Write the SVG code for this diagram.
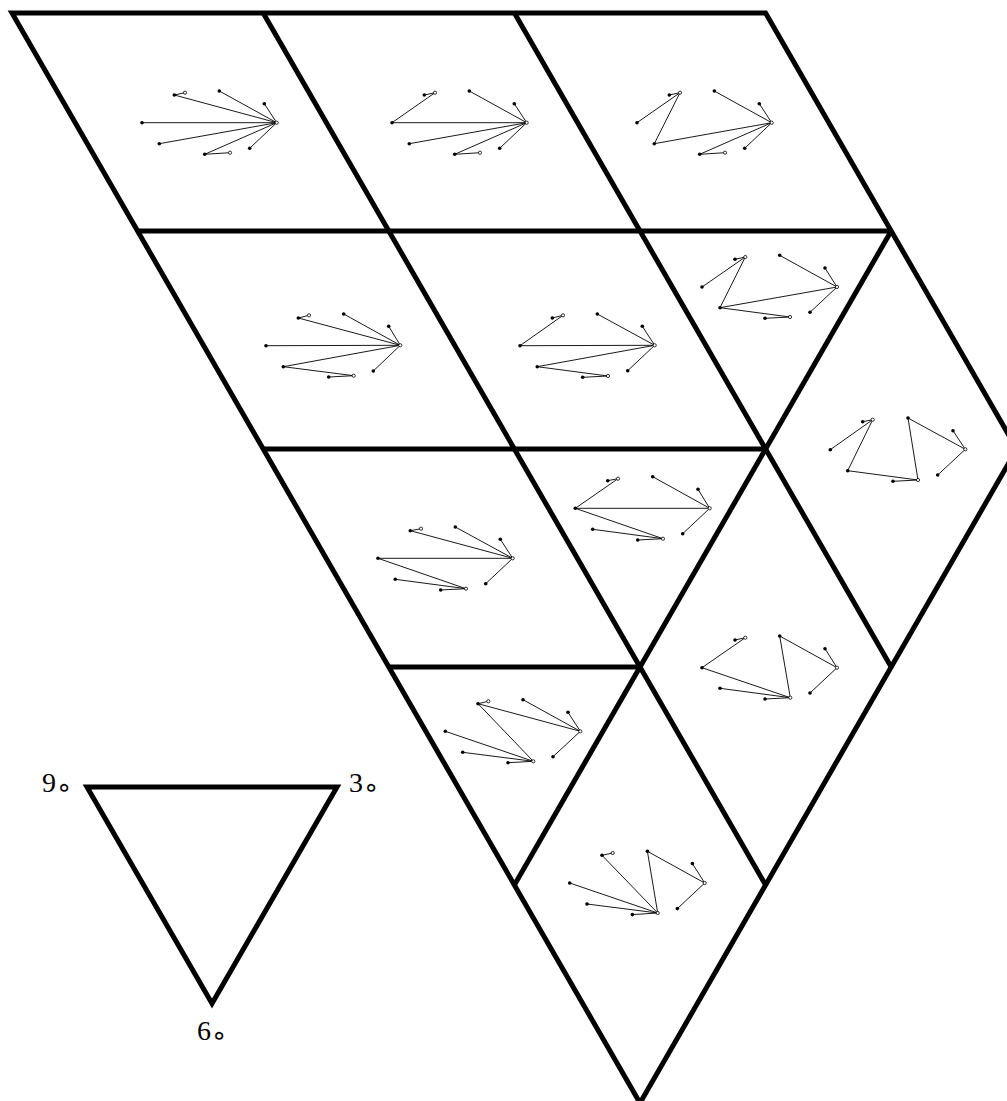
<svg xmlns="http://www.w3.org/2000/svg" width="1007" height="1101" viewBox="0 0 1007 1101">
<style>
.fr{fill:none;stroke:#000;stroke-width:5;stroke-linejoin:miter;stroke-linecap:butt}
.e line{stroke:#000;stroke-width:0.9}
.f{fill:#000}
.o{fill:#fff;stroke:#000;stroke-width:0.8}
.lb{font-family:"Liberation Serif","DejaVu Serif",serif;font-size:28px;fill:#000}
.sb{font-family:"DejaVu Sans","Liberation Sans",sans-serif;font-size:26px}
</style>
<rect width="1007" height="1101" fill="#fff"/>
<g id="frame">
<path class="fr" d="M12,13 L765.6,13 L1016.8,449 L640,1103 Z"/>
<path class="fr" d="M137.6,231 L891.2,231 M263.2,449 L765.6,449 M388.8,667 L640,667"/>
<path class="fr" d="M263.2,13 L765.6,885 M514.4,13 L891.2,667"/>
<path class="fr" d="M891.2,231 L514.4,885"/>
</g>
<g id="cell1">
<g class="e">
<line x1="276.7" y1="122.7" x2="142" y2="122.7"/><line x1="276.7" y1="122.7" x2="174.3" y2="95"/><line x1="276.7" y1="122.7" x2="219.3" y2="91"/><line x1="276.7" y1="122.7" x2="264.3" y2="103.7"/><line x1="276.7" y1="122.7" x2="159.3" y2="143.7"/><line x1="276.7" y1="122.7" x2="204.7" y2="154.3"/><line x1="276.7" y1="122.7" x2="249.7" y2="148.3"/><line x1="174.3" y1="95" x2="185" y2="92.7"/><line x1="204.7" y1="154.3" x2="230" y2="152.7"/>
</g>
<circle class="f" cx="142" cy="122.7" r="1.8"/><circle class="f" cx="174.3" cy="95" r="1.8"/><circle class="f" cx="219.3" cy="91" r="1.8"/><circle class="f" cx="264.3" cy="103.7" r="1.8"/><circle class="f" cx="159.3" cy="143.7" r="1.8"/><circle class="f" cx="204.7" cy="154.3" r="1.8"/><circle class="f" cx="249.7" cy="148.3" r="1.8"/>
<circle class="o" cx="185" cy="92.7" r="1.6"/><circle class="o" cx="276.7" cy="122.7" r="1.6"/><circle class="o" cx="230" cy="152.7" r="1.6"/>
</g>
<g id="cell2">
<g class="e">
<line x1="392" y1="122.7" x2="435" y2="92.7"/><line x1="424.3" y1="95" x2="435" y2="92.7"/><line x1="526.7" y1="122.7" x2="469.3" y2="91"/><line x1="526.7" y1="122.7" x2="514.3" y2="103.7"/><line x1="526.7" y1="122.7" x2="392" y2="122.7"/><line x1="526.7" y1="122.7" x2="409.3" y2="143.7"/><line x1="526.7" y1="122.7" x2="454.7" y2="154.3"/><line x1="454.7" y1="154.3" x2="480" y2="152.7"/><line x1="526.7" y1="122.7" x2="499.7" y2="148.3"/>
</g>
<circle class="f" cx="392" cy="122.7" r="1.8"/><circle class="f" cx="424.3" cy="95" r="1.8"/><circle class="f" cx="469.3" cy="91" r="1.8"/><circle class="f" cx="514.3" cy="103.7" r="1.8"/><circle class="f" cx="409.3" cy="143.7" r="1.8"/><circle class="f" cx="454.7" cy="154.3" r="1.8"/><circle class="f" cx="499.7" cy="148.3" r="1.8"/>
<circle class="o" cx="435" cy="92.7" r="1.6"/><circle class="o" cx="526.7" cy="122.7" r="1.6"/><circle class="o" cx="480" cy="152.7" r="1.6"/>
</g>
<g id="cell3">
<g class="e">
<line x1="637" y1="122.7" x2="680" y2="92.7"/><line x1="669.3" y1="95" x2="680" y2="92.7"/><line x1="680" y1="92.7" x2="654.3" y2="143.7"/><line x1="654.3" y1="143.7" x2="771.7" y2="122.7"/><line x1="771.7" y1="122.7" x2="714.3" y2="91"/><line x1="771.7" y1="122.7" x2="759.3" y2="103.7"/><line x1="771.7" y1="122.7" x2="699.7" y2="154.3"/><line x1="699.7" y1="154.3" x2="725" y2="152.7"/><line x1="771.7" y1="122.7" x2="744.7" y2="148.3"/>
</g>
<circle class="f" cx="637" cy="122.7" r="1.8"/><circle class="f" cx="669.3" cy="95" r="1.8"/><circle class="f" cx="714.3" cy="91" r="1.8"/><circle class="f" cx="759.3" cy="103.7" r="1.8"/><circle class="f" cx="654.3" cy="143.7" r="1.8"/><circle class="f" cx="699.7" cy="154.3" r="1.8"/><circle class="f" cx="744.7" cy="148.3" r="1.8"/>
<circle class="o" cx="680" cy="92.7" r="1.6"/><circle class="o" cx="771.7" cy="122.7" r="1.6"/><circle class="o" cx="725" cy="152.7" r="1.6"/>
</g>
<g id="cell4">
<g class="e">
<line x1="298.3" y1="318" x2="309" y2="315.3"/><line x1="298.3" y1="318" x2="400.3" y2="345.3"/><line x1="343.7" y1="314" x2="400.3" y2="345.3"/><line x1="388.7" y1="326.3" x2="400.3" y2="345.3"/><line x1="266" y1="345.7" x2="400.3" y2="345.3"/><line x1="283.3" y1="366.7" x2="400.3" y2="345.3"/><line x1="283.3" y1="366.7" x2="353.7" y2="375.7"/><line x1="328.7" y1="377" x2="353.7" y2="375.7"/><line x1="373.3" y1="371" x2="400.3" y2="345.3"/>
</g>
<circle class="f" cx="266" cy="345.7" r="1.8"/><circle class="f" cx="298.3" cy="318" r="1.8"/><circle class="f" cx="343.7" cy="314" r="1.8"/><circle class="f" cx="388.7" cy="326.3" r="1.8"/><circle class="f" cx="283.3" cy="366.7" r="1.8"/><circle class="f" cx="328.7" cy="377" r="1.8"/><circle class="f" cx="373.3" cy="371" r="1.8"/>
<circle class="o" cx="309" cy="315.3" r="1.6"/><circle class="o" cx="400.3" cy="345.3" r="1.6"/><circle class="o" cx="353.7" cy="375.7" r="1.6"/>
</g>
<g id="cell5">
<g class="e">
<line x1="520" y1="345.7" x2="563" y2="315.3"/><line x1="552.3" y1="318" x2="563" y2="315.3"/><line x1="520" y1="345.7" x2="654.7" y2="345.3"/><line x1="597.3" y1="314" x2="654.7" y2="345.3"/><line x1="642.3" y1="326.3" x2="654.7" y2="345.3"/><line x1="537.3" y1="366.7" x2="654.7" y2="345.3"/><line x1="537.3" y1="366.7" x2="608" y2="376"/><line x1="582.7" y1="377.3" x2="608" y2="376"/><line x1="627.7" y1="370.7" x2="654.7" y2="345.3"/>
</g>
<circle class="f" cx="520" cy="345.7" r="1.8"/><circle class="f" cx="552.3" cy="318" r="1.8"/><circle class="f" cx="597.3" cy="314" r="1.8"/><circle class="f" cx="642.3" cy="326.3" r="1.8"/><circle class="f" cx="537.3" cy="366.7" r="1.8"/><circle class="f" cx="582.7" cy="377.3" r="1.8"/><circle class="f" cx="627.7" cy="370.7" r="1.8"/>
<circle class="o" cx="563" cy="315.3" r="1.6"/><circle class="o" cx="654.7" cy="345.3" r="1.6"/><circle class="o" cx="608" cy="376" r="1.6"/>
</g>
<g id="cell6">
<g class="e">
<line x1="702" y1="287" x2="745.3" y2="257"/><line x1="735" y1="259.3" x2="745.3" y2="257"/><line x1="745.3" y1="257" x2="720" y2="307.7"/><line x1="720" y1="307.7" x2="837" y2="287"/><line x1="779.7" y1="255.3" x2="837" y2="287"/><line x1="825" y1="268" x2="837" y2="287"/><line x1="720" y1="307.7" x2="790" y2="317"/><line x1="765" y1="318.3" x2="790" y2="317"/><line x1="810" y1="312.3" x2="837" y2="287"/>
</g>
<circle class="f" cx="702" cy="287" r="1.8"/><circle class="f" cx="735" cy="259.3" r="1.8"/><circle class="f" cx="779.7" cy="255.3" r="1.8"/><circle class="f" cx="825" cy="268" r="1.8"/><circle class="f" cx="720" cy="307.7" r="1.8"/><circle class="f" cx="765" cy="318.3" r="1.8"/><circle class="f" cx="810" cy="312.3" r="1.8"/>
<circle class="o" cx="745.3" cy="257" r="1.6"/><circle class="o" cx="837" cy="287" r="1.6"/><circle class="o" cx="790" cy="317" r="1.6"/>
</g>
<g id="cell7">
<g class="e">
<line x1="830.3" y1="449.7" x2="872.7" y2="419.7"/><line x1="862.7" y1="421.7" x2="872.7" y2="419.7"/><line x1="872.7" y1="419.7" x2="847.7" y2="470.7"/><line x1="847.7" y1="470.7" x2="918" y2="480"/><line x1="893" y1="481.3" x2="918" y2="480"/><line x1="918" y1="480" x2="908" y2="418"/><line x1="908" y1="418" x2="965.3" y2="449.3"/><line x1="953" y1="430.7" x2="965.3" y2="449.3"/><line x1="937.7" y1="475" x2="965.3" y2="449.3"/>
</g>
<circle class="f" cx="830.3" cy="449.7" r="1.8"/><circle class="f" cx="862.7" cy="421.7" r="1.8"/><circle class="f" cx="908" cy="418" r="1.8"/><circle class="f" cx="953" cy="430.7" r="1.8"/><circle class="f" cx="847.7" cy="470.7" r="1.8"/><circle class="f" cx="893" cy="481.3" r="1.8"/><circle class="f" cx="937.7" cy="475" r="1.8"/>
<circle class="o" cx="872.7" cy="419.7" r="1.6"/><circle class="o" cx="965.3" cy="449.3" r="1.6"/><circle class="o" cx="918" cy="480" r="1.6"/>
</g>
<g id="cell8">
<g class="e">
<line x1="575.3" y1="508.3" x2="618" y2="478.7"/><line x1="607.7" y1="480.7" x2="618" y2="478.7"/><line x1="575.3" y1="508.3" x2="709.7" y2="508.3"/><line x1="575.3" y1="508.3" x2="663" y2="538.7"/><line x1="592.7" y1="529.3" x2="663" y2="538.7"/><line x1="637.7" y1="540" x2="663" y2="538.7"/><line x1="652.7" y1="476.7" x2="709.7" y2="508.3"/><line x1="698" y1="489.3" x2="709.7" y2="508.3"/><line x1="682.7" y1="533.7" x2="709.7" y2="508.3"/>
</g>
<circle class="f" cx="575.3" cy="508.3" r="1.8"/><circle class="f" cx="607.7" cy="480.7" r="1.8"/><circle class="f" cx="652.7" cy="476.7" r="1.8"/><circle class="f" cx="698" cy="489.3" r="1.8"/><circle class="f" cx="592.7" cy="529.3" r="1.8"/><circle class="f" cx="637.7" cy="540" r="1.8"/><circle class="f" cx="682.7" cy="533.7" r="1.8"/>
<circle class="o" cx="618" cy="478.7" r="1.6"/><circle class="o" cx="709.7" cy="508.3" r="1.6"/><circle class="o" cx="663" cy="538.7" r="1.6"/>
</g>
<g id="cell9">
<g class="e">
<line x1="410.3" y1="530.7" x2="421" y2="528.7"/><line x1="410.3" y1="530.7" x2="512.7" y2="558.3"/><line x1="455.3" y1="527" x2="512.7" y2="558.3"/><line x1="500.3" y1="539.3" x2="512.7" y2="558.3"/><line x1="378" y1="558.3" x2="512.7" y2="558.3"/><line x1="378" y1="558.3" x2="466" y2="588.7"/><line x1="395.3" y1="579.3" x2="466" y2="588.7"/><line x1="440.7" y1="590" x2="466" y2="588.7"/><line x1="485.7" y1="583.7" x2="512.7" y2="558.3"/>
</g>
<circle class="f" cx="378" cy="558.3" r="1.8"/><circle class="f" cx="410.3" cy="530.7" r="1.8"/><circle class="f" cx="455.3" cy="527" r="1.8"/><circle class="f" cx="500.3" cy="539.3" r="1.8"/><circle class="f" cx="395.3" cy="579.3" r="1.8"/><circle class="f" cx="440.7" cy="590" r="1.8"/><circle class="f" cx="485.7" cy="583.7" r="1.8"/>
<circle class="o" cx="421" cy="528.7" r="1.6"/><circle class="o" cx="512.7" cy="558.3" r="1.6"/><circle class="o" cx="466" cy="588.7" r="1.6"/>
</g>
<g id="cell10">
<g class="e">
<line x1="702" y1="667.7" x2="745.3" y2="637.7"/><line x1="735" y1="640" x2="745.3" y2="637.7"/><line x1="702" y1="667.7" x2="790.3" y2="697.7"/><line x1="720" y1="688.3" x2="790.3" y2="697.7"/><line x1="765" y1="699" x2="790.3" y2="697.7"/><line x1="790.3" y1="697.7" x2="779.7" y2="636"/><line x1="779.7" y1="636" x2="837" y2="667.7"/><line x1="825" y1="648.7" x2="837" y2="667.7"/><line x1="810" y1="693" x2="837" y2="667.7"/>
</g>
<circle class="f" cx="702" cy="667.7" r="1.8"/><circle class="f" cx="735" cy="640" r="1.8"/><circle class="f" cx="779.7" cy="636" r="1.8"/><circle class="f" cx="825" cy="648.7" r="1.8"/><circle class="f" cx="720" cy="688.3" r="1.8"/><circle class="f" cx="765" cy="699" r="1.8"/><circle class="f" cx="810" cy="693" r="1.8"/>
<circle class="o" cx="745.3" cy="637.7" r="1.6"/><circle class="o" cx="837" cy="667.7" r="1.6"/><circle class="o" cx="790.3" cy="697.7" r="1.6"/>
</g>
<g id="cell11">
<g class="e">
<line x1="478" y1="703.7" x2="488.3" y2="701.3"/><line x1="478" y1="703.7" x2="580.3" y2="731.3"/><line x1="478" y1="703.7" x2="533.3" y2="761.3"/><line x1="523" y1="699.7" x2="580.3" y2="731.3"/><line x1="568" y1="712.3" x2="580.3" y2="731.3"/><line x1="445.3" y1="731.3" x2="533.3" y2="761.3"/><line x1="462.7" y1="752.3" x2="533.3" y2="761.3"/><line x1="508" y1="762.7" x2="533.3" y2="761.3"/><line x1="553" y1="756.7" x2="580.3" y2="731.3"/>
</g>
<circle class="f" cx="445.3" cy="731.3" r="1.8"/><circle class="f" cx="478" cy="703.7" r="1.8"/><circle class="f" cx="523" cy="699.7" r="1.8"/><circle class="f" cx="568" cy="712.3" r="1.8"/><circle class="f" cx="462.7" cy="752.3" r="1.8"/><circle class="f" cx="508" cy="762.7" r="1.8"/><circle class="f" cx="553" cy="756.7" r="1.8"/>
<circle class="o" cx="488.3" cy="701.3" r="1.6"/><circle class="o" cx="580.3" cy="731.3" r="1.6"/><circle class="o" cx="533.3" cy="761.3" r="1.6"/>
</g>
<g id="cell12">
<g class="e">
<line x1="602" y1="855.3" x2="612.7" y2="853"/><line x1="602" y1="855.3" x2="657.7" y2="913"/><line x1="647.4" y1="851.3" x2="657.7" y2="913"/><line x1="647.4" y1="851.3" x2="704.7" y2="883"/><line x1="692.4" y1="863.6" x2="704.7" y2="883"/><line x1="569.7" y1="883" x2="657.7" y2="913"/><line x1="587" y1="904" x2="657.7" y2="913"/><line x1="632.4" y1="914.6" x2="657.7" y2="913"/><line x1="677.4" y1="908.6" x2="704.7" y2="883"/>
</g>
<circle class="f" cx="569.7" cy="883" r="1.8"/><circle class="f" cx="602" cy="855.3" r="1.8"/><circle class="f" cx="647.4" cy="851.3" r="1.8"/><circle class="f" cx="692.4" cy="863.6" r="1.8"/><circle class="f" cx="587" cy="904" r="1.8"/><circle class="f" cx="632.4" cy="914.6" r="1.8"/><circle class="f" cx="677.4" cy="908.6" r="1.8"/>
<circle class="o" cx="612.7" cy="853" r="1.6"/><circle class="o" cx="704.7" cy="883" r="1.6"/><circle class="o" cx="657.7" cy="913" r="1.6"/>
</g>
<g id="legend">
<path class="fr" d="M87,787 L337,787 L212,1003.5 Z"/>
<text class="lb" x="42" y="792">9<tspan class="sb" dy="4">∘</tspan></text>
<text class="lb" x="349" y="792">3<tspan class="sb" dy="4">∘</tspan></text>
<text class="lb" x="197" y="1040">6<tspan class="sb" dy="4">∘</tspan></text>
</g>
</svg>
